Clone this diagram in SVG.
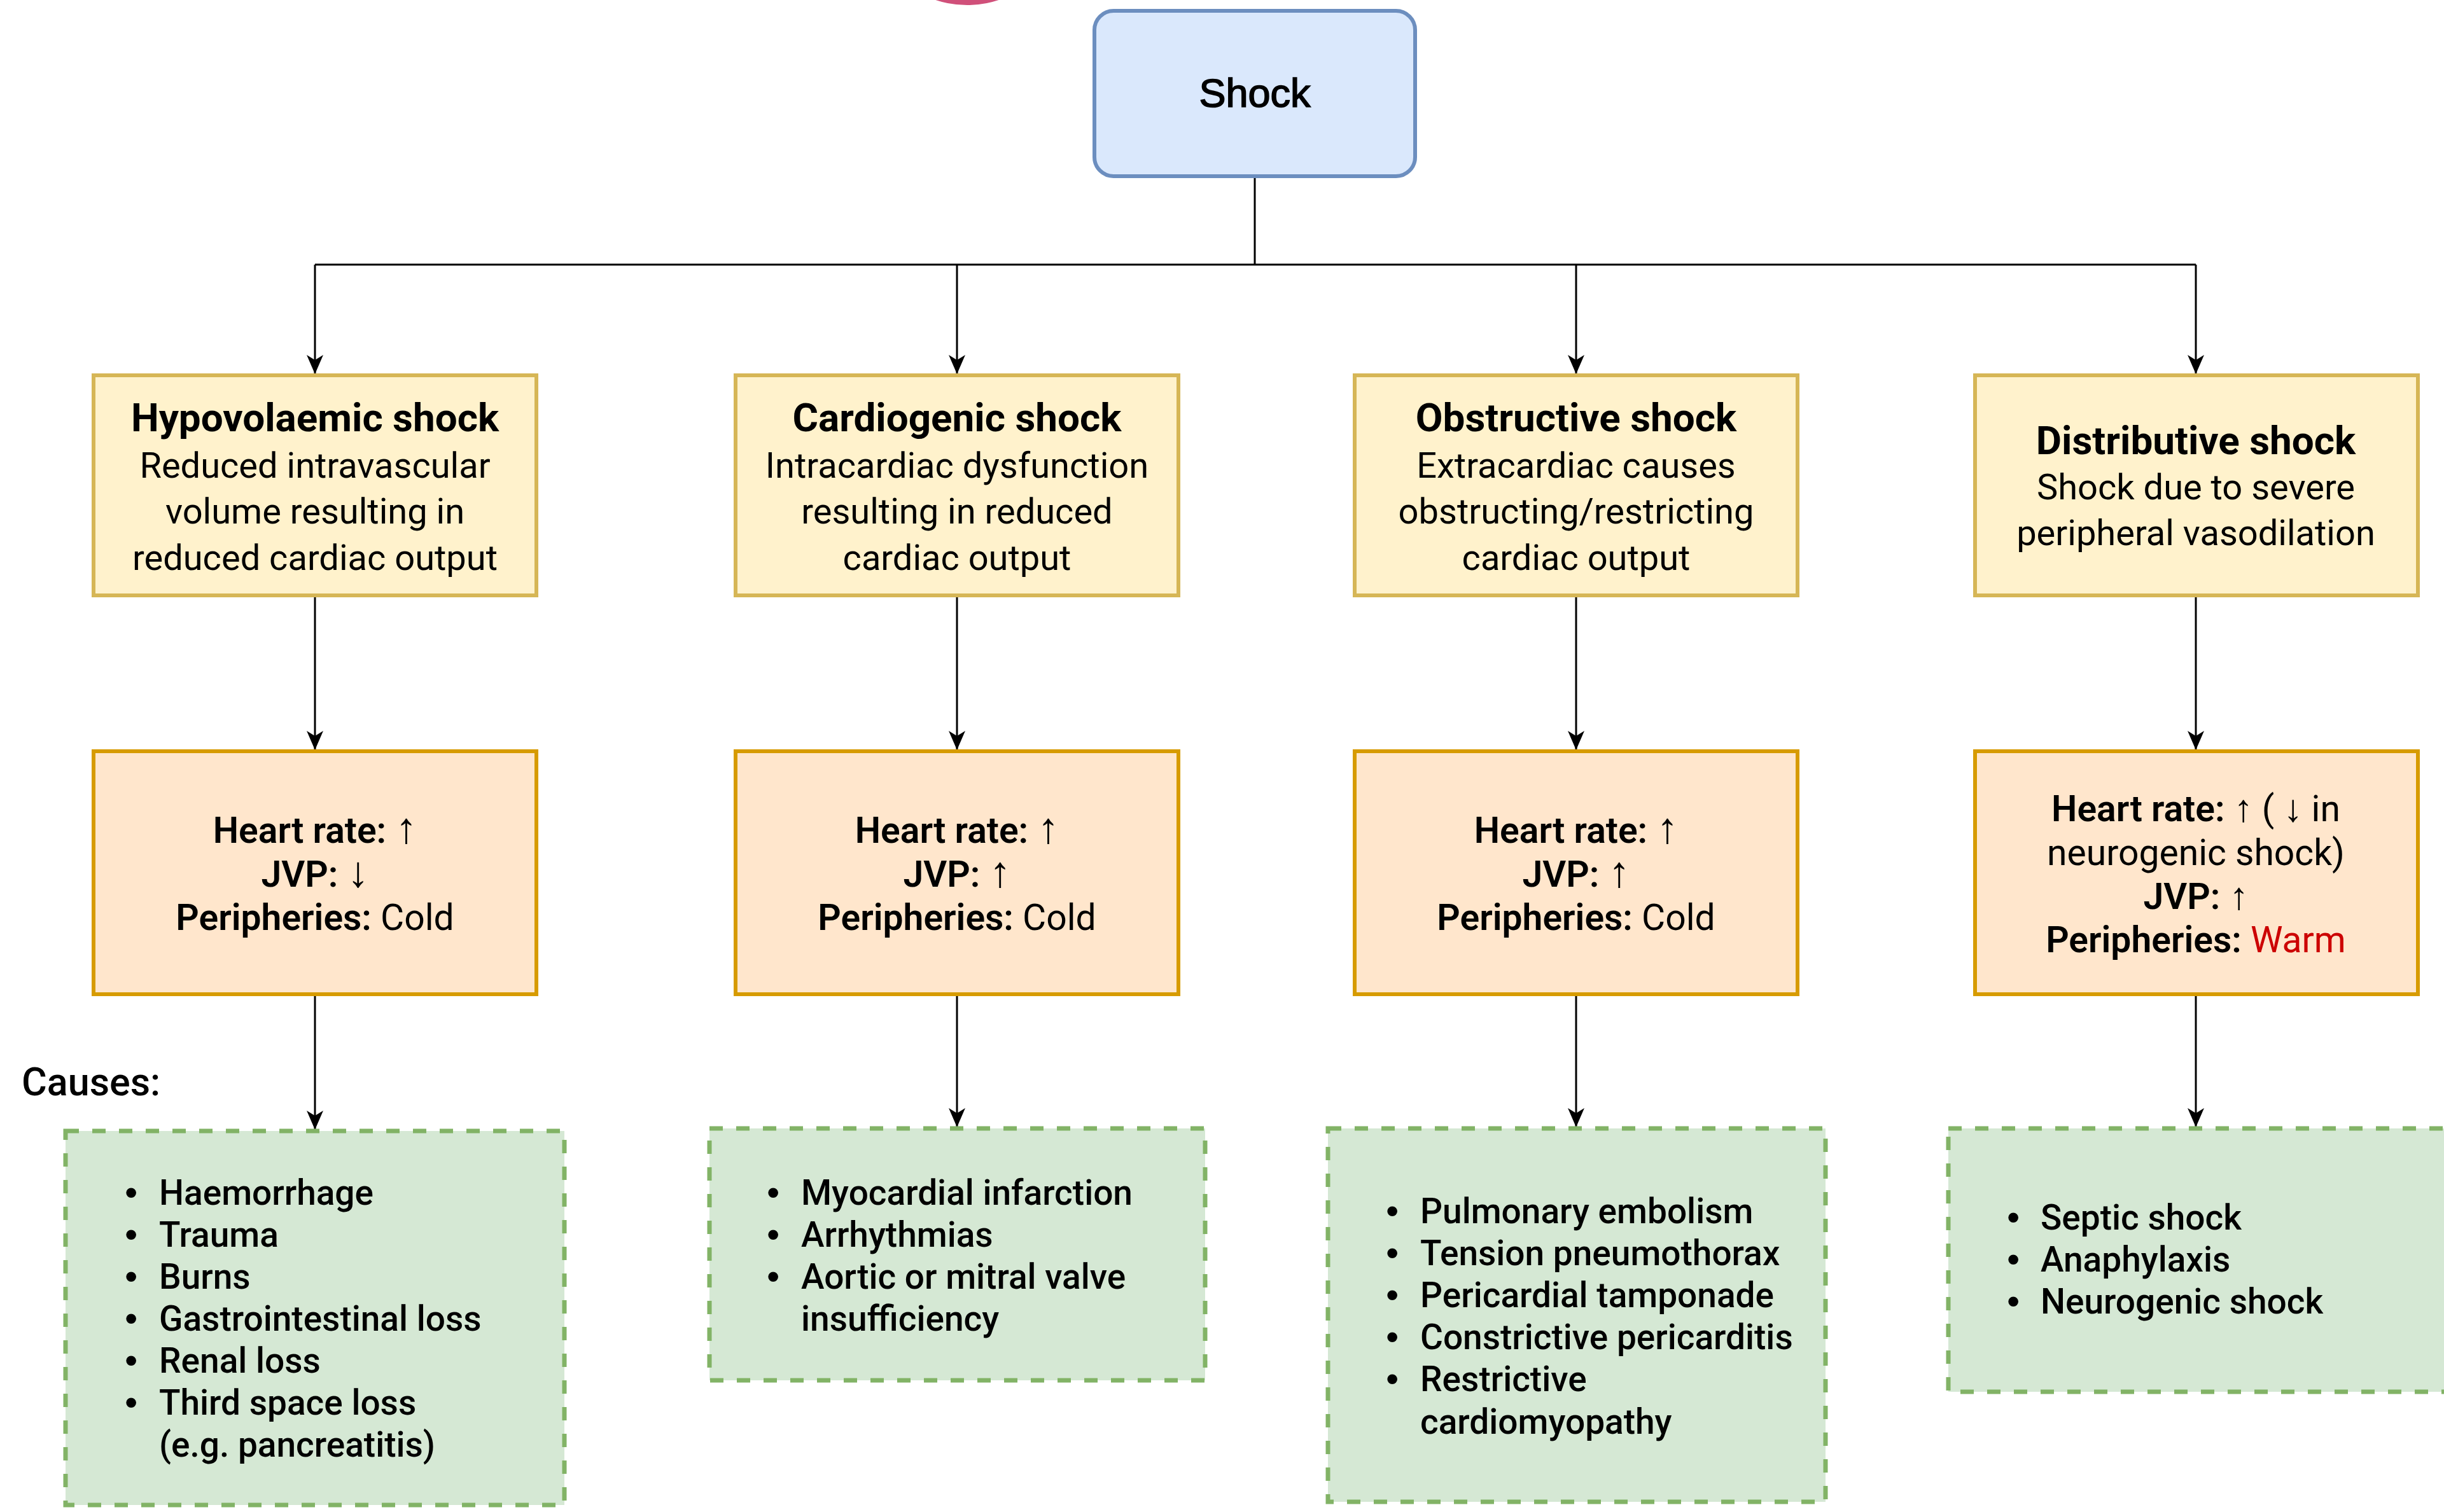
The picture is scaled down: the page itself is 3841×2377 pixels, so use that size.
<svg xmlns="http://www.w3.org/2000/svg" width="3841" height="2377" viewBox="0 0 3841 2377">
<style>
.t{font-family:Roboto,"Liberation Sans",sans-serif;fill:#000;text-anchor:middle}
.title{font-size:62px;font-weight:700}
.body{font-size:56px;font-weight:400}
.vit{font-size:57px;font-weight:400}
.b{font-weight:600}
.ar{font-family:"Liberation Sans",Arial,sans-serif;font-weight:400;font-size:68px}
.ar2{font-family:"Liberation Sans",Arial,sans-serif;font-weight:400;font-size:60px}
.list{font-family:Roboto,"Liberation Sans",sans-serif;font-size:55px;font-weight:500;fill:#000}
.bul{font-family:"Liberation Sans",Arial,sans-serif;font-size:58px}
.yel{fill:#fff2cc;stroke:#d6b656;stroke-width:6}
.ora{fill:#ffe6cc;stroke:#d79b00;stroke-width:6}
.grn{fill:#d5e8d4;stroke:#82b366;stroke-width:7;stroke-dasharray:21 21}
.conn{fill:none;stroke:#000;stroke-width:3}
</style>
<defs>
<marker id="arr" markerWidth="30" markerHeight="26" refX="30" refY="13" orient="auto" markerUnits="userSpaceOnUse">
<path d="M0,0 L30,13 L0,26 L8,13 z" fill="#000"/>
</marker>
</defs>
<rect width="3841" height="2377" fill="#fff"/>
<circle cx="1520" cy="-150" r="158" fill="#d0507a"/>

<g id="connectors">
<path class="conn" d="M1972,277 V416"/>
<path class="conn" d="M495,416 H3451"/>
<path class="conn" d="M495,416 V588" marker-end="url(#arr)"/>
<path class="conn" d="M1504,416 V588" marker-end="url(#arr)"/>
<path class="conn" d="M2477,416 V588" marker-end="url(#arr)"/>
<path class="conn" d="M3451,416 V588" marker-end="url(#arr)"/>
<path class="conn" d="M495,936 V1179" marker-end="url(#arr)"/>
<path class="conn" d="M1504,936 V1179" marker-end="url(#arr)"/>
<path class="conn" d="M2477,936 V1179" marker-end="url(#arr)"/>
<path class="conn" d="M3451,936 V1179" marker-end="url(#arr)"/>
<path class="conn" d="M495,1563 V1776" marker-end="url(#arr)"/>
<path class="conn" d="M1504,1563 V1772" marker-end="url(#arr)"/>
<path class="conn" d="M2477,1563 V1772" marker-end="url(#arr)"/>
<path class="conn" d="M3451,1563 V1772" marker-end="url(#arr)"/>
</g>

<g id="shock">
<rect x="1720" y="17" width="504" height="260" rx="30" ry="30" fill="#dae8fc" stroke="#6c8ebf" stroke-width="6"/>
<text x="1972" y="168" font-family="'Liberation Sans',Arial,sans-serif" font-size="63" text-anchor="middle" fill="#000" stroke="#000" stroke-width="1.6">Shock</text>
</g>

<g id="hypovolaemic">
<rect class="yel" x="147" y="590" width="696" height="346"/>
<text class="t title" x="495" y="678">Hypovolaemic shock</text>
<text class="t body" x="495" y="751">Reduced intravascular</text>
<text class="t body" x="495" y="823">volume resulting in</text>
<text class="t body" x="495" y="896">reduced cardiac output</text>
</g>
<g id="cardiogenic">
<rect class="yel" x="1156" y="590" width="696" height="346"/>
<text class="t title" x="1504" y="678">Cardiogenic shock</text>
<text class="t body" x="1504" y="751">Intracardiac dysfunction</text>
<text class="t body" x="1504" y="823">resulting in reduced</text>
<text class="t body" x="1504" y="896">cardiac output</text>
</g>
<g id="obstructive">
<rect class="yel" x="2129" y="590" width="696" height="346"/>
<text class="t title" x="2477" y="678">Obstructive shock</text>
<text class="t body" x="2477" y="751">Extracardiac causes</text>
<text class="t body" x="2477" y="823">obstructing/restricting</text>
<text class="t body" x="2477" y="896">cardiac output</text>
</g>
<g id="distributive">
<rect class="yel" x="3104" y="590" width="696" height="346"/>
<text class="t title" x="3451" y="714">Distributive shock</text>
<text class="t body" x="3451" y="785">Shock due to severe</text>
<text class="t body" x="3451" y="857">peripheral vasodilation</text>
</g>

<g id="signs-hypovolaemic">
<rect class="ora" x="147" y="1181" width="696" height="382"/>
<text class="t vit" x="495" y="1325"><tspan class="b">Heart rate:</tspan> <tspan class="ar">↑</tspan></text>
<text class="t vit" x="495" y="1394"><tspan class="b">JVP:</tspan> <tspan class="ar">↓</tspan></text>
<text class="t vit" x="495" y="1462"><tspan class="b">Peripheries:</tspan> Cold</text>
</g>
<g id="signs-cardiogenic">
<rect class="ora" x="1156" y="1181" width="696" height="382"/>
<text class="t vit" x="1504" y="1325"><tspan class="b">Heart rate:</tspan> <tspan class="ar">↑</tspan></text>
<text class="t vit" x="1504" y="1394"><tspan class="b">JVP:</tspan> <tspan class="ar">↑</tspan></text>
<text class="t vit" x="1504" y="1462"><tspan class="b">Peripheries:</tspan> Cold</text>
</g>
<g id="signs-obstructive">
<rect class="ora" x="2129" y="1181" width="696" height="382"/>
<text class="t vit" x="2477" y="1325"><tspan class="b">Heart rate:</tspan> <tspan class="ar">↑</tspan></text>
<text class="t vit" x="2477" y="1394"><tspan class="b">JVP:</tspan> <tspan class="ar">↑</tspan></text>
<text class="t vit" x="2477" y="1462"><tspan class="b">Peripheries:</tspan> Cold</text>
</g>
<g id="signs-distributive">
<rect class="ora" x="3104" y="1181" width="696" height="382"/>
<text class="t vit" x="3451" y="1291"><tspan class="b">Heart rate:</tspan> <tspan class="ar2">↑</tspan> ( <tspan class="ar2">↓</tspan> in</text>
<text class="t vit" x="3451" y="1360">neurogenic shock)</text>
<text class="t vit" x="3451" y="1429"><tspan class="b">JVP:</tspan> <tspan class="ar2">↑</tspan></text>
<text class="t vit" x="3451" y="1497"><tspan class="b">Peripheries:</tspan> <tspan fill="#cc0000">Warm</tspan></text>
</g>

<g id="causes-label">
<text x="34" y="1722" font-family="Roboto,'Liberation Sans',sans-serif" font-size="61" font-weight="500" fill="#000">Causes:</text>
</g>

<g id="causes-hypovolaemic">
<rect class="grn" x="103" y="1778" width="784" height="588"/>
<g class="list">
<text class="bul" x="196" y="1894">•</text><text x="250" y="1894">Haemorrhage</text>
<text class="bul" x="196" y="1960">•</text><text x="250" y="1960">Trauma</text>
<text class="bul" x="196" y="2026">•</text><text x="250" y="2026">Burns</text>
<text class="bul" x="196" y="2092">•</text><text x="250" y="2092">Gastrointestinal loss</text>
<text class="bul" x="196" y="2158">•</text><text x="250" y="2158">Renal loss</text>
<text class="bul" x="196" y="2224">•</text><text x="250" y="2224">Third space loss</text>
<text x="250" y="2290">(e.g. pancreatitis)</text>
</g>
</g>
<g id="causes-cardiogenic">
<rect class="grn" x="1115" y="1774" width="779" height="396"/>
<g class="list">
<text class="bul" x="1205" y="1894">•</text><text x="1259" y="1894">Myocardial infarction</text>
<text class="bul" x="1205" y="1960">•</text><text x="1259" y="1960">Arrhythmias</text>
<text class="bul" x="1205" y="2026">•</text><text x="1259" y="2026">Aortic or mitral valve</text>
<text x="1259" y="2092">insufficiency</text>
</g>
</g>
<g id="causes-obstructive">
<rect class="grn" x="2087" y="1774" width="782" height="587"/>
<g class="list">
<text class="bul" x="2178" y="1923">•</text><text x="2232" y="1923">Pulmonary embolism</text>
<text class="bul" x="2178" y="1989">•</text><text x="2232" y="1989">Tension pneumothorax</text>
<text class="bul" x="2178" y="2055">•</text><text x="2232" y="2055">Pericardial tamponade</text>
<text class="bul" x="2178" y="2121">•</text><text x="2232" y="2121">Constrictive pericarditis</text>
<text class="bul" x="2178" y="2187">•</text><text x="2232" y="2187">Restrictive</text>
<text x="2232" y="2254">cardiomyopathy</text>
</g>
</g>
<g id="causes-distributive">
<rect class="grn" x="3062" y="1774" width="800" height="414"/>
<g class="list">
<text class="bul" x="3154" y="1933">•</text><text x="3207" y="1933">Septic shock</text>
<text class="bul" x="3154" y="1999">•</text><text x="3207" y="1999">Anaphylaxis</text>
<text class="bul" x="3154" y="2065">•</text><text x="3207" y="2065">Neurogenic shock</text>
</g>
</g>
</svg>
